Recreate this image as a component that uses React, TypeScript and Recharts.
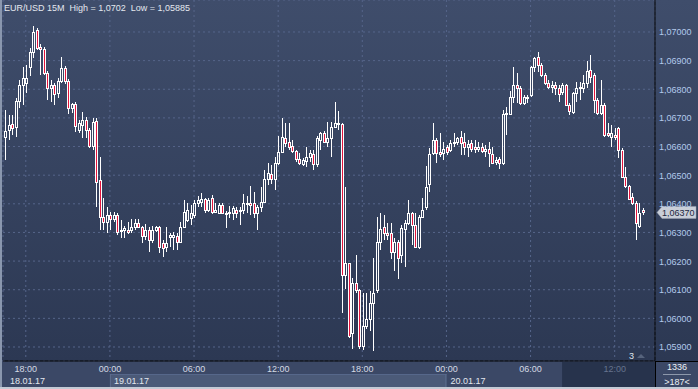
import React from 'react';
import { ComposedChart, Bar, XAxis, YAxis, CartesianGrid, ReferenceLine } from 'recharts';

// ---------- DATA (EUR/USD 15M candles, 18.01.17 16:30 -> 20.01.17 14:00) ----------
const opens = [
  1.06633,1.06657,1.06678,1.06668,1.06758,1.06814,1.06822,1.06878,1.06930,1.07007,
  1.06948,1.06940,1.06856,1.06804,1.06814,1.06786,1.06828,1.06874,1.06828,1.06734,
  1.06748,1.06657,1.06675,1.06692,1.06657,1.06601,1.06688,1.06482,1.06353,1.06335,
  1.06360,1.06346,1.06360,1.06307,1.06307,1.06310,1.06307,1.06318,1.06332,1.06318,
  1.06286,1.06307,1.06272,1.06307,1.06318,1.06262,1.06248,1.06283,1.06283,1.06286,
  1.06265,1.06318,1.06342,1.06349,1.06360,1.06402,1.06408,1.06416,1.06377,1.06422,
  1.06370,1.06367,1.06395,1.06363,1.06367,1.06367,1.06380,1.06374,1.06377,1.06398,
  1.06402,1.06402,1.06367,1.06388,1.06405,1.06486,1.06503,1.06486,1.06542,1.06580,
  1.06629,1.06615,1.06601,1.06584,1.06556,1.06538,1.06549,1.06563,1.06573,1.06538,
  1.06622,1.06647,1.06615,1.06629,1.06668,1.06678,1.06678,1.06150,1.06192,1.05950,
  1.06125,1.06100,1.05904,1.05975,1.05999,1.06055,1.06100,1.06265,1.06318,1.06297,
  1.06297,1.06230,1.06265,1.06220,1.06311,1.06332,1.06367,1.06325,1.06248,1.06353,
  1.06388,1.06468,1.06577,1.06622,1.06580,1.06577,1.06598,1.06587,1.06612,1.06615,
  1.06633,1.06615,1.06598,1.06612,1.06598,1.06591,1.06598,1.06584,1.06591,1.06573,
  1.06545,1.06556,1.06542,1.06713,1.06713,1.06772,1.06814,1.06804,1.06752,1.06769,
  1.06780,1.06878,1.06912,1.06884,1.06850,1.06822,1.06808,1.06814,1.06804,1.06790,
  1.06814,1.06745,1.06720,1.06786,1.06804,1.06804,1.06822,1.06867,1.06850,1.06762,
  1.06717,1.06745,1.06647,1.06633,1.06640,1.06664,1.06587,1.06493,1.06461,1.06423,
  1.06402,1.06321,1.06377,
];
const highs = [
  1.06727,1.06710,1.06710,1.06769,1.06832,1.06878,1.06885,1.06944,1.07020,1.07015,
  1.06958,1.06947,1.06863,1.06832,1.06822,1.06839,1.06912,1.06881,1.06835,1.06752,
  1.06755,1.06692,1.06720,1.06702,1.06664,1.06699,1.06699,1.06563,1.06422,1.06388,
  1.06370,1.06370,1.06367,1.06342,1.06321,1.06335,1.06346,1.06346,1.06346,1.06324,
  1.06328,1.06318,1.06321,1.06324,1.06324,1.06272,1.06318,1.06297,1.06300,1.06297,
  1.06335,1.06412,1.06402,1.06395,1.06412,1.06426,1.06437,1.06422,1.06422,1.06430,
  1.06402,1.06402,1.06402,1.06374,1.06391,1.06391,1.06388,1.06388,1.06433,1.06426,
  1.06461,1.06440,1.06395,1.06458,1.06517,1.06542,1.06535,1.06563,1.06636,1.06699,
  1.06682,1.06682,1.06622,1.06587,1.06577,1.06559,1.06598,1.06587,1.06587,1.06636,
  1.06650,1.06654,1.06685,1.06685,1.06755,1.06724,1.06682,1.06458,1.06195,1.06142,
  1.06220,1.06104,1.06087,1.06090,1.06097,1.06212,1.06353,1.06367,1.06360,1.06332,
  1.06332,1.06279,1.06272,1.06325,1.06342,1.06412,1.06370,1.06367,1.06360,1.06419,
  1.06531,1.06594,1.06682,1.06629,1.06647,1.06615,1.06605,1.06622,1.06647,1.06633,
  1.06654,1.06647,1.06622,1.06622,1.06622,1.06615,1.06612,1.06605,1.06615,1.06598,
  1.06563,1.06563,1.06727,1.06738,1.06794,1.06878,1.06856,1.06811,1.06780,1.06780,
  1.06881,1.06912,1.06930,1.06892,1.06856,1.06832,1.06828,1.06825,1.06814,1.06822,
  1.06818,1.06752,1.06790,1.06825,1.06825,1.06850,1.06898,1.06920,1.06856,1.06769,
  1.06832,1.06752,1.06682,1.06675,1.06664,1.06668,1.06594,1.06528,1.06464,1.06437,
  1.06409,1.06402,1.06384,
];
const lows = [
  1.06552,1.06622,1.06640,1.06633,1.06734,1.06745,1.06786,1.06846,1.06909,1.06937,
  1.06850,1.06850,1.06762,1.06755,1.06745,1.06769,1.06822,1.06818,1.06713,1.06716,
  1.06650,1.06647,1.06629,1.06629,1.06594,1.06587,1.06388,1.06307,1.06307,1.06297,
  1.06307,1.06335,1.06290,1.06279,1.06279,1.06293,1.06297,1.06307,1.06314,1.06262,
  1.06272,1.06230,1.06262,1.06300,1.06227,1.06213,1.06230,1.06248,1.06237,1.06237,
  1.06262,1.06314,1.06335,1.06325,1.06349,1.06388,1.06388,1.06367,1.06370,1.06363,
  1.06367,1.06363,1.06363,1.06314,1.06352,1.06342,1.06352,1.06325,1.06363,1.06367,
  1.06360,1.06352,1.06307,1.06370,1.06402,1.06465,1.06468,1.06447,1.06535,1.06577,
  1.06598,1.06587,1.06577,1.06545,1.06535,1.06531,1.06528,1.06545,1.06517,1.06528,
  1.06587,1.06612,1.06598,1.06563,1.06664,1.06657,1.06020,1.06104,1.05933,1.05892,
  1.06090,1.05894,1.05890,1.05964,1.05957,1.05885,1.06090,1.06237,1.06272,1.06272,
  1.06209,1.06167,1.06139,1.06192,1.06178,1.06325,1.06255,1.06244,1.06241,1.06349,
  1.06377,1.06440,1.06570,1.06542,1.06563,1.06552,1.06570,1.06580,1.06598,1.06605,
  1.06570,1.06570,1.06563,1.06580,1.06577,1.06580,1.06577,1.06563,1.06528,1.06538,
  1.06535,1.06521,1.06535,1.06640,1.06710,1.06752,1.06752,1.06745,1.06745,1.06752,
  1.06772,1.06860,1.06860,1.06842,1.06814,1.06800,1.06786,1.06780,1.06755,1.06780,
  1.06741,1.06710,1.06713,1.06755,1.06762,1.06786,1.06804,1.06822,1.06717,1.06710,
  1.06710,1.06633,1.06633,1.06598,1.06622,1.06559,1.06489,1.06454,1.06412,1.06395,
  1.06272,1.06314,1.06360,
];
const closes = [
  1.06654,1.06675,1.06664,1.06758,1.06814,1.06839,1.06839,1.06930,1.07000,1.06944,
  1.06940,1.06856,1.06804,1.06814,1.06783,1.06828,1.06874,1.06828,1.06734,1.06748,
  1.06671,1.06682,1.06692,1.06657,1.06601,1.06685,1.06475,1.06353,1.06335,1.06360,
  1.06346,1.06360,1.06300,1.06310,1.06314,1.06300,1.06318,1.06332,1.06318,1.06286,
  1.06307,1.06272,1.06307,1.06318,1.06248,1.06244,1.06262,1.06290,1.06290,1.06265,
  1.06318,1.06370,1.06377,1.06367,1.06402,1.06412,1.06416,1.06377,1.06412,1.06370,
  1.06380,1.06395,1.06367,1.06367,1.06370,1.06384,1.06367,1.06377,1.06402,1.06402,
  1.06395,1.06367,1.06388,1.06405,1.06486,1.06507,1.06486,1.06542,1.06580,1.06633,
  1.06612,1.06598,1.06584,1.06556,1.06542,1.06552,1.06563,1.06577,1.06538,1.06629,
  1.06647,1.06615,1.06629,1.06668,1.06682,1.06682,1.06150,1.06192,1.05940,1.06125,
  1.06100,1.05904,1.05975,1.05999,1.06055,1.06090,1.06265,1.06311,1.06297,1.06290,
  1.06230,1.06265,1.06212,1.06314,1.06332,1.06367,1.06325,1.06248,1.06353,1.06380,
  1.06458,1.06573,1.06622,1.06577,1.06573,1.06591,1.06580,1.06612,1.06615,1.06629,
  1.06612,1.06598,1.06608,1.06591,1.06591,1.06598,1.06584,1.06591,1.06577,1.06542,
  1.06552,1.06542,1.06713,1.06717,1.06772,1.06814,1.06804,1.06752,1.06772,1.06772,
  1.06878,1.06909,1.06884,1.06850,1.06822,1.06808,1.06814,1.06804,1.06783,1.06814,
  1.06745,1.06724,1.06786,1.06804,1.06808,1.06822,1.06864,1.06842,1.06762,1.06717,
  1.06745,1.06640,1.06640,1.06647,1.06633,1.06587,1.06493,1.06461,1.06416,1.06402,
  1.06332,1.06367,1.06370,
];

// time axis: candle index -> label
const timeTickIdx = [6, 30, 54, 78, 102, 126, 150, 174];
const timeLabels = ['18:00', '00:00', '06:00', '12:00', '18:00', '00:00', '06:00', '12:00'];
const dayStartIdx = [6, 30, 126];
const dateLabels = ['18.01.17', '19.01.17', '20.01.17'];
const priceTicks = [1.059, 1.06, 1.061, 1.062, 1.063, 1.064, 1.065, 1.066, 1.067, 1.068, 1.069, 1.07];
const sessionStartIdx = 159;
const title = 'EUR/USD 15M  High = 1,0702  Low = 1,05885';
const counterTop = '1336';
const counterBottom = '>187<';
const markerText = '3';

// ---------- LAYOUT ----------
const W = 698;
const H = 389;
const PLOT_LEFT = 3;
const AXIS_W = 43;
const AXIS_H = 28;
const EMPTY_SLOTS = 3;
const Y_DOMAIN: [number, number] = [1.058511, 1.071117];
const FONT = "'Liberation Sans', Arial, sans-serif";

const data: any[] = [
  ...opens.map((o, i) => ({ i, open: o, high: highs[i], low: lows[i], close: closes[i] })),
  ...Array.from({ length: EMPTY_SLOTS }, (_, k) => ({ i: opens.length + k })),
];
const PLOT_W = W - PLOT_LEFT - AXIS_W;
const BW = PLOT_W / data.length;
const PLOT_BOTTOM = H - AXIS_H;

const fmt = (v: number) => v.toFixed(5).replace('.', ',');

const Candle = (props: any) => {
  const { x, y, width, height, payload } = props;
  if (!payload || payload.open == null) return null;
  const { open, close, high, low } = payload;
  const cx = Math.round(x + width / 2);
  const range = high - low;
  const py = (v: number) => (range > 0 ? y + ((high - v) / range) * height : y);
  const yH = Math.round(py(high));
  const yL = Math.round(py(low));
  const top = Math.round(py(Math.max(open, close)));
  const bot = Math.round(py(Math.min(open, close)));
  const up = close >= open;
  const bodyH = Math.max(bot - top, 1);
  return (
    <g>
      {top > yH && <line x1={cx + 0.5} x2={cx + 0.5} y1={yH} y2={top} stroke="#ffffff" strokeWidth={1} />}
      {yL > top + bodyH && (
        <line x1={cx + 0.5} x2={cx + 0.5} y1={top + bodyH} y2={yL} stroke="#ffffff" strokeWidth={1} />
      )}
      <rect
        x={cx - 0.5}
        y={top + 0.5}
        width={2}
        height={bodyH}
        fill={up ? 'none' : '#e3143c'}
        stroke="#ffffff"
        strokeWidth={1}
      />
    </g>
  );
};

const PriceTick = (props: any) => {
  const { x, y, payload } = props;
  return (
    <text x={x} y={y} dy={3.5} fill="#b2caec" fontSize={9} fontFamily={FONT} textAnchor="start">
      {fmt(payload.value)}
    </text>
  );
};

const TimeTick = (props: any) => {
  const { x, y, payload } = props;
  const k = timeTickIdx.indexOf(payload.value);
  if (k < 0) return null;
  const d = dayStartIdx.indexOf(payload.value);
  const isSession = payload.value > sessionStartIdx && k === timeTickIdx.length - 1;
  const sessionX = x - (payload.value - sessionStartIdx) * BW;
  const rightEdge = PLOT_LEFT + PLOT_W;
  const dayW = 96 * BW;
  return (
    <g>
      {d === 1 && (
        <g>
          <rect x={x} y={y + 13} width={dayW} height={13} fill="#4b5a78" />
          <line x1={x} x2={x + dayW} y1={y + 13.5} y2={y + 13.5} stroke="#56678a" />
          <line x1={x + 0.5} x2={x + 0.5} y1={y + 13} y2={y + 26} stroke="#5d6d8e" />
          <line x1={x + dayW - 0.5} x2={x + dayW - 0.5} y1={y + 13} y2={y + 26} stroke="#5d6d8e" />
        </g>
      )}
      {isSession && <rect x={sessionX} y={y + 1} width={rightEdge - sessionX} height={25} fill="#27334c" />}
      <text
        x={x}
        y={y + 11}
        textAnchor="middle"
        fill={isSession ? '#66748e' : '#d4dae4'}
        fontSize={9}
        fontFamily={FONT}
      >
        {timeLabels[k]}
      </text>
      {d >= 0 && (
        <text x={d === 0 ? PLOT_LEFT + 7 : x + 4} y={y + 23} fill="#e2e6ee" fontSize={9} fontFamily={FONT}>
          {dateLabels[d]}
        </text>
      )}
    </g>
  );
};

const PriceTag = (props: any) => {
  const vb = props.viewBox || {};
  const tipX = vb.x + vb.width + 2;
  const cy = vb.y;
  const pts = `${tipX},${cy} ${tipX + 5},${cy - 6} ${tipX + 39},${cy - 6} ${tipX + 39},${cy + 6} ${tipX + 5},${cy + 6}`;
  return (
    <g>
      <polygon points={pts} fill="#c9ced8" stroke="#9aa3b3" strokeWidth={0.5} />
      <text x={tipX + 5} y={cy} dy={3.5} fill="#1c2740" fontSize={9} fontFamily={FONT}>
        {fmt(closes[closes.length - 1])}
      </text>
    </g>
  );
};

export default function App() {
  return (
    <div
      style={{
        position: 'absolute',
        left: 0,
        top: 0,
        width: W,
        height: H,
        overflow: 'hidden',
        background: `linear-gradient(to bottom, #3f4d6b 0px, #2c3853 ${PLOT_BOTTOM}px, #3b4866 ${PLOT_BOTTOM}px, #3b4866 ${H}px)`,
      }}
    >
      <ComposedChart
        width={W}
        height={H}
        data={data}
        margin={{ top: 0, right: 0, bottom: 0, left: PLOT_LEFT }}
        barCategoryGap={0}
      >
        <CartesianGrid stroke="#56658a" strokeDasharray="2 3" />
        <XAxis
          dataKey="i"
          type="category"
          ticks={timeTickIdx}
          interval={0}
          height={AXIS_H}
          axisLine={{ stroke: '#000000' }}
          tickLine={false}
          tickSize={0}
          tickMargin={0}
          tick={<TimeTick />}
        />
        <YAxis
          orientation="right"
          type="number"
          width={AXIS_W}
          domain={Y_DOMAIN}
          ticks={priceTicks}
          allowDataOverflow
          axisLine={{ stroke: '#000000' }}
          tickLine={false}
          tickSize={0}
          tickMargin={4}
          tick={<PriceTick />}
        />
        <Bar
          dataKey={(d: any) => (d.open == null ? null : [d.low, d.high])}
          shape={<Candle />}
          isAnimationActive={false}
        />
        <ReferenceLine
          y={closes[closes.length - 1]}
          stroke="none"
          ifOverflow="visible"
          label={<PriceTag />}
        />
      </ComposedChart>
      <svg
        width={W}
        height={H}
        style={{ position: 'absolute', left: 0, top: 0, pointerEvents: 'none' }}
      >
        <rect x={0} y={0} width={2} height={H} fill="#8a97ae" />
        <rect x={0} y={H - 2} width={W} height={2} fill="#c3cad5" />
        <line x1={PLOT_LEFT + PLOT_W + 0.5} x2={PLOT_LEFT + PLOT_W + 0.5} y1={PLOT_BOTTOM} y2={H - 2} stroke="#000" />
        <line x1={PLOT_LEFT + PLOT_W} x2={W} y1={PLOT_BOTTOM + 0.5} y2={PLOT_BOTTOM + 0.5} stroke="#000" />
        <text x={4} y={11} fill="#e4e8ef" fontSize={9} fontFamily={FONT} style={{ whiteSpace: 'pre' }}>
          {title}
        </text>
        <text x={629} y={358.5} fill="#dfe4ec" fontSize={9} fontFamily={FONT}>
          {markerText}
        </text>
        <polygon points="637,358 641,354 645,358" fill="#56637c" />
        <text x={677} y={369.5} textAnchor="middle" fill="#eef1f5" fontSize={9} fontFamily={FONT}>
          {counterTop}
        </text>
        <line x1={663} x2={691} y1={374.5} y2={374.5} stroke="#8d98ab" />
        <text x={677} y={384.5} textAnchor="middle" fill="#eef1f5" fontSize={9} fontFamily={FONT}>
          {counterBottom}
        </text>
      </svg>
    </div>
  );
}
